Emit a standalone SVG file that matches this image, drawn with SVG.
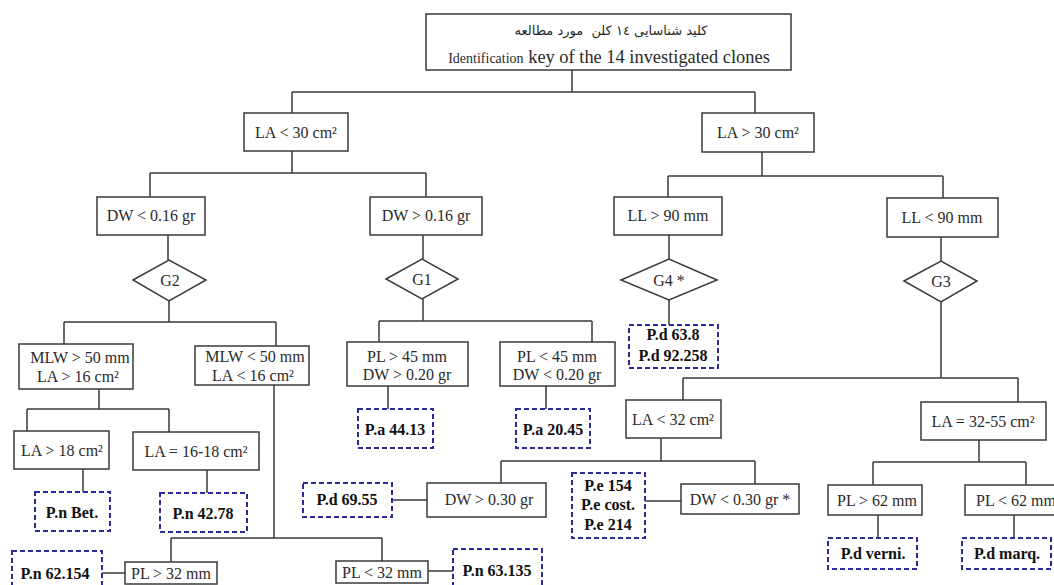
<svg xmlns="http://www.w3.org/2000/svg" width="1054" height="585" viewBox="0 0 1054 585">
<style>
.b{fill:#fff;stroke:#3a3a3a;stroke-width:1.5}
.d{fill:#fff;stroke:#2b2b9c;stroke-width:2;stroke-dasharray:5 3}
.t{font-family:"Liberation Serif",serif;font-size:16px;fill:#2a2a2a;text-anchor:middle}
.k{font-family:"Liberation Serif",serif;font-size:16px;font-weight:bold;fill:#111;text-anchor:middle}
#connectors path{fill:none;stroke:#3a3a3a;stroke-width:1.5}
</style>
<rect width="1054" height="585" fill="#fff"/>
<g id="connectors">
<path d="M572 70V92M292 92H755M292 92V113M755 92V113"/>
<path d="M292 151V173M150 173H426M150 173V197M426 173V197"/>
<path d="M168 235V260M169 301V322M64 322H276M64 322V344M276 322V346"/>
<path d="M99 389V409M27 409H169M27 409V431M169 409V432M83 469V492M207 470V493"/>
<path d="M274 385V538M171 538H382M171 538V562M382 538V561M102 573H125M428 571H453"/>
<path d="M423 235V259M423 299V321M379 321H592M379 321V342M592 321V342M388 386V409M546 386V409"/>
<path d="M762 152V176M668 176H943M668 176V197M943 176V198M669 235V259M669 300V325"/>
<path d="M941 237V261M941 302V378M683 378H1018M683 378V400M1018 378V402"/>
<path d="M661 438V461M501 461H755M501 461V483M755 461V484M392 500H427M645 501H681"/>
<path d="M979 440V462M873 462H1026M873 462V485M1026 462V485M878 515V538M1014 515V538"/>
</g>
<g id="title">
<rect class="b" x="426" y="14" width="365" height="56"/>
<text x="611" y="35" font-family="DejaVu Sans,sans-serif" font-size="13" fill="#2a2a2a" text-anchor="middle" direction="rtl" style="white-space:pre">کلید شناسایی ١٤ کلن  مورد مطالعه</text>
<text x="609" y="63" font-family="Liberation Serif,serif" fill="#2a2a2a" text-anchor="middle"><tspan font-size="14">Identification</tspan><tspan font-size="18.4"> key of the 14 investigated clones</tspan></text>
</g>
<g id="n-la30lt"><rect class="b" x="244" y="113" width="104" height="38"/><text class="t" x="296" y="138">LA &lt; 30 cm²</text></g>
<g id="n-la30gt"><rect class="b" x="702" y="113" width="112" height="39"/><text class="t" x="758" y="138">LA &gt; 30 cm²</text></g>
<g id="n-dw016lt"><rect class="b" x="97" y="197" width="108" height="38"/><text class="t" x="151" y="221">DW &lt; 0.16 gr</text></g>
<g id="n-dw016gt"><rect class="b" x="370" y="197" width="112" height="38"/><text class="t" x="426" y="221">DW &gt; 0.16 gr</text></g>
<g id="n-ll90gt"><rect class="b" x="614" y="197" width="108" height="38"/><text class="t" x="668" y="221">LL &gt; 90 mm</text></g>
<g id="n-ll90lt"><rect class="b" x="887" y="198" width="111" height="39"/><text class="t" x="942" y="223">LL &lt; 90 mm</text></g>
<g id="n-g2"><polygon class="b" points="133,280 169,260 206,280 169,301"/><text class="t" x="170" y="286">G2</text></g>
<g id="n-g1"><polygon class="b" points="386,279 422,259 458,279 422,299"/><text class="t" x="422" y="285">G1</text></g>
<g id="n-g4"><polygon class="b" points="621,280 669,259 717,280 669,300"/><text class="t" x="669" y="286">G4 *</text></g>
<g id="n-g3"><polygon class="b" points="904,281 941,261 977,281 941,302"/><text class="t" x="941" y="287">G3</text></g>
<g id="n-mlw50gt"><rect class="b" x="19" y="344" width="114" height="45"/><text class="t" x="80" y="363">MLW &gt; 50 mm</text><text class="t" x="78" y="382">LA &gt; 16 cm²</text></g>
<g id="n-mlw50lt"><rect class="b" x="195" y="346" width="114" height="39"/><text class="t" x="255" y="362">MLW &lt; 50 mm</text><text class="t" x="253" y="381">LA &lt; 16 cm²</text></g>
<g id="n-pl45gt"><rect class="b" x="347" y="342" width="121" height="44"/><text class="t" x="407" y="362">PL &gt; 45 mm</text><text class="t" x="407" y="380">DW &gt; 0.20 gr</text></g>
<g id="n-pl45lt"><rect class="b" x="500" y="342" width="115" height="44"/><text class="t" x="557" y="362">PL &lt; 45 mm</text><text class="t" x="557" y="380">DW &lt; 0.20 gr</text></g>
<g id="n-pd638"><rect class="d" x="629" y="325" width="89" height="43"/><text class="k" x="673" y="340">P.d 63.8</text><text class="k" x="673" y="361">P.d 92.258</text></g>
<g id="n-la18"><rect class="b" x="14" y="431" width="95" height="38"/><text class="t" x="62" y="456">LA &gt; 18 cm²</text></g>
<g id="n-la1618"><rect class="b" x="133" y="432" width="126" height="38"/><text class="t" x="196" y="457">LA = 16-18 cm²</text></g>
<g id="n-pa4413"><rect class="d" x="358" y="409" width="75" height="39"/><text class="k" x="395" y="435">P.a 44.13</text></g>
<g id="n-pa2045"><rect class="d" x="516" y="409" width="74" height="39"/><text class="k" x="553" y="435">P.a 20.45</text></g>
<g id="n-la32lt"><rect class="b" x="626" y="400" width="95" height="38"/><text class="t" x="673" y="425">LA &lt; 32 cm²</text></g>
<g id="n-la3255"><rect class="b" x="921" y="402" width="125" height="38"/><text class="t" x="983" y="427">LA = 32-55 cm²</text></g>
<g id="n-pnbet"><rect class="d" x="35" y="492" width="75" height="39"/><text class="k" x="72" y="518">P.n Bet.</text></g>
<g id="n-pn4278"><rect class="d" x="160" y="493" width="87" height="39"/><text class="k" x="203" y="519">P.n 42.78</text></g>
<g id="n-pd6955"><rect class="d" x="303" y="483" width="89" height="34"/><text class="k" x="347" y="505">P.d 69.55</text></g>
<g id="n-dw030gt"><rect class="b" x="427" y="483" width="119" height="34"/><text class="t" x="489" y="505">DW &gt; 0.30 gr</text></g>
<g id="n-pe"><rect class="d" x="572" y="473" width="73" height="65"/><text class="k" x="608" y="491">P.e 154</text><text class="k" x="608" y="510">P.e cost.</text><text class="k" x="608" y="530">P.e 214</text></g>
<g id="n-dw030lt"><rect class="b" x="681" y="484" width="118" height="30"/><text class="t" x="740" y="505">DW &lt; 0.30 gr *</text></g>
<g id="n-pl62gt"><rect class="b" x="828" y="485" width="94" height="30"/><text class="t" x="877" y="506">PL &gt; 62 mm</text></g>
<g id="n-pl62lt"><rect class="b" x="965" y="485" width="100" height="30"/><text class="t" x="976" y="506" style="text-anchor:start">PL &lt; 62 mm</text></g>
<g id="n-pdverni"><rect class="d" x="828" y="538" width="89" height="31"/><text class="k" x="873" y="559">P.d verni.</text></g>
<g id="n-pdmarq"><rect class="d" x="962" y="538" width="89" height="31"/><text class="k" x="1007" y="559">P.d marq.</text></g>
<g id="n-pn62154"><rect class="d" x="12" y="551" width="90" height="40"/><text class="k" x="55" y="579">P.n 62.154</text></g>
<g id="n-pl32gt"><rect class="b" x="125" y="562" width="92" height="22"/><text class="t" x="171" y="579">PL &gt; 32 mm</text></g>
<g id="n-pl32lt"><rect class="b" x="336" y="561" width="92" height="22"/><text class="t" x="382" y="578">PL &lt; 32 mm</text></g>
<g id="n-pn63135"><rect class="d" x="453" y="549" width="89" height="42"/><text class="k" x="497" y="576">P.n 63.135</text></g>
</svg>
